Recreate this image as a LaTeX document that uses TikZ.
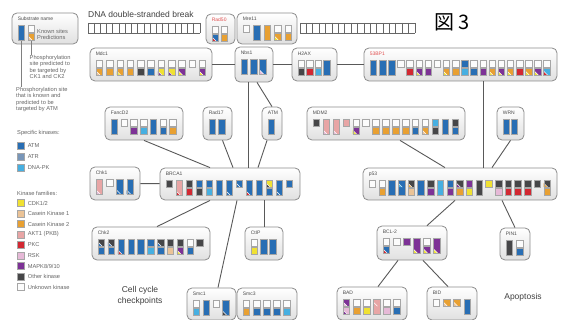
\documentclass[tikz,border=0pt]{standalone}
\usepackage{fontspec}
\setmainfont{Liberation Sans}
\newfontfamily\cjk{Noto Sans CJK JP}
\usepackage{tikz}
\usetikzlibrary{positioning}

% kinase colours
\definecolor{katm}{RGB}{40,110,180}
\definecolor{katr}{RGB}{120,150,185}
\definecolor{kdna}{RGB}{70,175,225}
\definecolor{kcdk}{RGB}{240,225,50}
\definecolor{kck1}{RGB}{235,195,150}
\definecolor{kck2}{RGB}{232,160,50}
\definecolor{kakt}{RGB}{232,165,165}
\definecolor{kpkc}{RGB}{210,40,50}
\definecolor{krsk}{RGB}{230,185,215}
\definecolor{kmapk}{RGB}{125,50,150}
\definecolor{koth}{RGB}{70,70,72}
\definecolor{kunk}{RGB}{252,252,252}
\definecolor{lblred}{RGB}{225,80,80}

\tikzset{
  subbox/.style={rounded corners=5pt, draw=black!45, line width=0.8pt, top color=white, bottom color=black!12, inner sep=0pt},
  sublbl/.style={anchor=west, inner sep=0pt, font=\fontsize{5}{6}\selectfont, text=black!70},
  sq/.style={draw=black!35, line width=0.3pt},
  link/.style={draw=black!65, line width=0.9pt},
  keyline/.style={draw=black!50, line width=0.8pt},
  keytxt/.style={inner sep=0pt, font=\fontsize{5.7}{6.4}\selectfont, text=black!60},
  swatch/.style={minimum size=7pt, inner sep=0pt, draw=black!35, line width=0.3pt},
  bigtxt/.style={inner sep=0pt, font=\fontsize{8.5}{11.5}\selectfont, text=black!75},
}

\def\knone{n}
% corner triangle of a second kinase
\newcommand{\ktri}[3]{\edef\mtc{#3}\ifx\mtc\knone\else
  \fill[fill=#3] (#1,#2+2.5) -- (#1,#2+6.5) -- (#1+4,#2+6.5) -- cycle;
  \draw[white, line width=0.5pt] (#1,#2+2.5) -- (#1+4,#2+6.5);\fi}
\newcommand{\ksq}[4]{%
  \fill[fill=#3] (#1,#2) rectangle ++(6.5,6.5);
  \ktri{#1}{#2}{#4}%
  \draw[sq] (#1,#2) rectangle ++(6.5,6.5);}
% one site: x, top, top2, bottom, bottom2
\newcommand{\site}[5]{\edef\mta{#2}\edef\mba{#4}%
  \ifx\mba\knone
    \ksq{#1}{13}{#2}{#3}%
  \else\ifx\mta\mba
    \fill[fill=#2] (#1,13) rectangle ++(6.5,14.5);
    \ktri{#1}{13}{#3}\ktri{#1}{21}{#5}%
    \draw[sq] (#1,13) rectangle ++(6.5,14.5);
  \else
    \ksq{#1}{13}{#2}{#3}\ksq{#1}{21}{#4}{#5}%
  \fi\fi}
% row of sites inside a box
\newcommand{\sites}[3]{%
  \begin{scope}[shift={(#1.north west)}]
    \foreach \ta/\tb/\ba/\bb [count=\i from 0] in {#3}{%
      \pgfmathsetmacro{\sx}{6.5+\i*#2}
      \site{\sx}{\ta}{\tb}{\ba}{\bb}
    }
  \end{scope}}
% box with its name
\newcommand{\substrate}[6]{%
  \node[subbox, minimum width=#4pt, minimum height=#5pt] (#1) at (#2,#3) {};
  \node[sublbl] (#1-l) at ([shift={(6,6.5)}]#1.north west) {#6};}

\begin{document}
\begin{tikzpicture}[x=1pt, y=-1pt]
  \fill[white] (0,0) rectangle (564,320);
  \useasboundingbox (0,0) rectangle (564,320);

  %%%%% KEY %%%%%
  \substrate{key}{45}{28.5}{66}{31}{Substrate name}
  \sites{key}{10}{katm/n/katm/n, kunk/n/kck2/kck1}
  \node[keytxt, anchor=west] (known) at (37,31) {Known sites};
  \node[keytxt, anchor=west] (pred) at (37,37.5) {Predictions};
  \coordinate (keytall) at (21.75,41.5);
  \coordinate (keypair) at (31.75,41.5);
  \node[keytxt, anchor=north west, align=left] (cknote) at (29.5,55) {Phosphorylation\\site predicted to\\be targeted by\\CK1 and CK2};
  \node[keytxt, anchor=north west, align=left] (atmnote) at (16,87) {Phosphorylation site\\that is known and\\predicted to be\\targeted by ATM};
  \draw[keyline] (keypair) -- (keypair |- cknote.north);
  \draw[keyline] (keytall) -- (keytall |- atmnote.north);

  \node[keytxt, anchor=west] (spec) at (17,133) {Specific kinases:};
  \foreach \c/\t [count=\i from 0] in {katm/ATM, katr/ATR, kdna/DNA-PK}{
    \node[swatch, fill=\c] (sk\i) at (20.5,146+\i*11) {};
    \node[keytxt, right=3.5pt of sk\i] (skt\i) {\t};
  }
  \node[keytxt, anchor=west] (fam) at (17,193) {Kinase families:};
  \foreach \c/\t [count=\i from 0] in {kcdk/{CDK1/2}, kck1/Casein Kinase 1, kck2/Casein Kinase 2,
      kakt/AKT1 (PKB), kpkc/PKC, krsk/RSK, kmapk/{MAPK8/9/10}, koth/Other kinase, kunk/Unknown kinase}{
    \node[swatch, fill=\c] (kf\i) at (20.5,203+\i*10.5) {};
    \node[keytxt, right=3.5pt of kf\i] (kft\i) {\t};
  }

  %%%%% DNA BREAK %%%%%
  \node[bigtxt, anchor=west] (dsb) at (88,14) {DNA double-stranded break};
  \draw[black!60, line width=0.8pt] (88,23) -- (200,23) (88,33) -- (200,33);
  \foreach \k in {0,...,18} \draw[black!60, line width=0.8pt] (88+\k*6.22,23) -- (88+\k*6.22,33);
  \draw[black!60, line width=0.8pt] (300,23) -- (415,23) (300,33) -- (415,33);
  \foreach \k in {0,...,18} \draw[black!60, line width=0.8pt] (300+\k*6.39,23) -- (300+\k*6.39,33);
  \node[inner sep=0pt, font=\cjk\fontsize{20}{20}\selectfont] (fig) at (452,22) {図 3};

  %%%%% SUBSTRATES %%%%%
  \substrate{rad50}{220.5}{29}{29}{30}{\textcolor{lblred}{Rad50}}
  \sites{rad50}{9}{kunk/n/katm/kpkc, kunk/n/kck2/n}
  \substrate{mre11}{267}{28.5}{60}{31}{Mre11}
  \sites{mre11}{10.4}{kunk/n/n/n, katm/n/katm/n, kck2/n/kck2/n, kunk/n/kck2/kcdk, kunk/n/kck2/n}

  \substrate{mdc1}{151}{64.5}{122}{33}{Mdc1}
  \sites{mdc1}{10.3}{kunk/n/kck2/kck1, kunk/n/kck2/n, kunk/n/kck2/kcdk, kunk/n/kck2/n, kunk/n/koth/n,
    kunk/n/katm/n, kunk/n/kcdk/kmapk, kunk/n/kcdk/kmapk, kunk/n/kmapk/kcdk, kunk/n/n/n, kunk/n/kmapk/kcdk}
  \substrate{nbs1}{254}{64.5}{38}{35}{Nbs1}
  \sites{nbs1}{9.25}{katm/n/katm/n, katm/n/katm/n, katm/n/katm/krsk}
  \substrate{h2ax}{314.5}{64.5}{45}{33}{H2AX}
  \sites{h2ax}{8.5}{kunk/n/koth/n, kunk/n/kpkc/n, kunk/n/kdna/n, katm/n/katm/n}
  \substrate{bp}{460.5}{64.5}{193}{33}{\textcolor{lblred}{53BP1}}
  \sites{bp}{9.13}{katm/n/katm/n, katm/n/katm/n, katm/n/katm/n, kunk/n/n/n, kunk/n/kpkc/n,
    kunk/n/kmapk/kcdk, kunk/n/kmapk/n, kunk/n/n/n, kunk/n/kck2/kcdk, kunk/n/kck2/n, katm/n/kdna/n,
    kunk/n/katm/n, kunk/n/kmapk/n, kunk/n/kck2/kcdk, kunk/n/kmapk/kcdk, kunk/n/kck2/kcdk, kunk/n/kpkc/n,
    kunk/n/kck2/kcdk, kunk/n/kmapk/kcdk, kunk/n/kdna/kpkc}

  \substrate{fancd2}{144}{123.5}{78}{33}{FancD2}
  \sites{fancd2}{9.75}{katm/n/katm/n, kunk/n/n/n, kunk/n/kmapk/n, kunk/n/kdna/n, katm/n/katm/n,
    kunk/n/katm/n, kunk/n/kck2/n}
  \substrate{rad17}{217.5}{123.5}{29}{33}{Rad17}
  \sites{rad17}{9.5}{katm/n/katm/n, katm/n/katm/n}
  \substrate{atm}{272}{123.5}{20}{33}{ATM}
  \sites{atm}{10}{katm/n/katm/n}
  \substrate{mdm2}{386}{123.5}{158}{33}{MDM2}
  \sites{mdm2}{9.9}{koth/n/n/n, kakt/n/kakt/krsk, kakt/n/kakt/krsk, kakt/n/n/n, kunk/n/kmapk/kcdk,
    kunk/n/n/n, kunk/n/kck2/n, kunk/n/kck2/n, kunk/n/kck2/n, kunk/n/kck2/n, kunk/n/katm/n,
    kunk/n/kck2/kck1, kdna/n/koth/n, katm/n/katm/n, koth/n/katm/n}
  \substrate{wrn}{510.5}{123.5}{27}{33}{WRN}
  \sites{wrn}{8}{katm/n/katm/n, katm/n/katm/n}

  \substrate{chk1}{115}{183.5}{50}{33}{Chk1}
  \sites{chk1}{10.2}{kakt/n/kakt/krsk, kunk/n/n/n, katm/n/katm/katm, katm/n/katm/katm}
  \substrate{brca1}{230}{184}{140}{32}{BRCA1}
  \sites{brca1}{10}{koth/n/n/n, kakt/n/kakt/kpkc, koth/n/kpkc/n, katm/n/koth/n, katm/n/kdna/n,
    katm/n/katm/n, katm/n/katm/katm, katm/katm/n/n, katm/n/katm/kpkc, katm/n/katm/n,
    kcdk/koth/katm/n, katm/n/katm/katm, katm/n/n/n}
  \substrate{p53}{460}{184}{194}{32}{p53}
  \sites{p53}{9.7}{kunk/n/n/n, kunk/n/kck2/n, katm/n/katm/n, katm/kdna/katm/n, koth/kck2/kck1/n,
    katm/n/katm/n, koth/n/kmapk/n, kdna/n/kdna/n, katm/n/kmapk/n, koth/kmapk/kck2/n, kmapk/n/kcdk/n,
    koth/n/koth/n, kcdk/n/n/n, koth/n/krsk/n, koth/n/kpkc/n, koth/n/kpkc/n, koth/n/kpkc/n,
    koth/n/n/n, koth/kck2/kck2/n}

  \substrate{chk2}{151}{243.5}{118}{33}{Chk2}
  \sites{chk2}{9.85}{koth/katm/katm/n, koth/katm/katm/n, katm/n/katm/kpkc, katm/n/katm/n, katm/n/katm/n,
    katm/n/kdna/n, koth/katm/katm/n, koth/n/kck1/n, koth/n/kmapk/kcdk, kunk/n/katm/n, koth/n/n/n}
  \substrate{ctip}{264}{243.5}{38}{33}{CtIP}
  \sites{ctip}{9.25}{kunk/n/kcdk/n, katm/n/katm/n, katm/n/katm/n}
  \substrate{bcl2}{412}{243}{70}{34}{BCL-2}
  \sites{bcl2}{10.1}{kunk/n/katm/kpkc, kunk/n/n/n, kmapk/n/n/n, kmapk/n/kmapk/kcdk, kunk/n/kmapk/kcdk,
    kmapk/n/kmapk/kcdk}
  \substrate{pin1}{515}{244}{30}{32}{PIN1}
  \sites{pin1}{10.5}{koth/n/koth/n, kunk/n/katm/n}

  \substrate{smc1}{211.5}{304}{49}{32}{Smc1}
  \sites{smc1}{9.8}{kunk/n/kdna/n, katm/n/katm/n, kunk/n/n/n, katm/n/katm/koth}
  \substrate{smc3}{267}{304}{60}{32}{Smc3}
  \sites{smc3}{10.1}{kunk/n/kck2/n, kunk/n/katm/n, kunk/n/katm/n, kunk/n/katm/n, kunk/n/kdna/n}
  \substrate{bad}{372}{303.5}{70}{33}{BAD}
  \sites{bad}{10.1}{kmapk/krsk/krsk/kmapk, kunk/n/kck2/n, kunk/n/kcdk/n, kakt/kakt/kakt/n,
    kunk/n/krsk/n, kunk/n/katm/n}
  \substrate{bid}{452}{303.5}{50}{33}{BID}
  \sites{bid}{10.2}{kunk/n/n/n, kck2/kck1/n/n, kck2/kck1/n/n, katm/n/katm/n}

  \node[bigtxt, align=center] (cellcyc) at (140,296) {Cell cycle\\checkpoints};
  \node[bigtxt] (apop) at (523,297) {Apoptosis};

  %%%%% LINKS %%%%%
  \draw[link] (mdc1) -- (nbs1);
  \draw[link] (nbs1) -- (h2ax);
  \draw[link] (h2ax) -- (bp);
  \draw[link] ([xshift=-6pt]nbs1.south) -- ([xshift=-6pt]nbs1.south |- brca1.north);
  \draw[link] ([xshift=3pt]nbs1.south) -- (atm.north);
  \draw[link] (fancd2.south) -- ([xshift=-20pt]brca1.north);
  \draw[link] ([xshift=5pt]rad17.south) -- ([xshift=3pt]brca1.north);
  \draw[link] ([xshift=-5pt]atm.south) -- ([xshift=28pt]brca1.north);
  \draw[link] (chk1) -- (brca1);
  \draw[link] ([xshift=-20pt]brca1.south) -- ([xshift=6pt]chk2.north);
  \draw[link] ([xshift=7pt]brca1.south) -- ([xshift=6.5pt]smc1.north);
  \draw[link] (ctip.north |- brca1.south) -- (ctip.north);
  \draw[link] ([xshift=22.5pt]bp.south) -- ([xshift=22.5pt]bp.south |- p53.north);
  \draw[link] ([xshift=14pt]mdm2.south) -- ([xshift=-15pt]p53.north);
  \draw[link] (wrn.south) -- ([xshift=32pt]p53.north);
  \draw[link] ([xshift=-5pt]p53.south) -- ([xshift=15pt]bcl2.north);
  \draw[link] ([xshift=42pt]p53.south) -- (pin1.north);
  \draw[link] ([xshift=-14pt]bcl2.south) -- ([xshift=6pt]bad.north);
  \draw[link] ([xshift=11pt]bcl2.south) -- ([xshift=-4pt]bid.north);
\end{tikzpicture}
\end{document}
